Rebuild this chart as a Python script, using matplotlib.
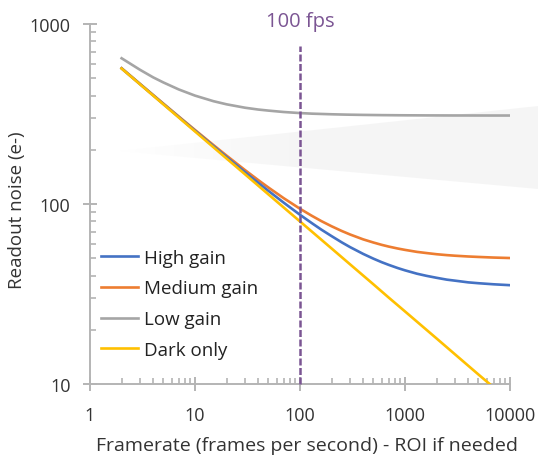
import matplotlib
matplotlib.use("Agg")
import matplotlib.pyplot as plt
import numpy as np
from matplotlib.patches import Polygon
from matplotlib.ticker import LogLocator, FixedLocator, NullFormatter

plt.rcParams['font.family'] = ['Open Sans', 'DejaVu Sans']

framerate = [2, 3, 4, 5, 7, 10, 15, 20, 30, 40, 50, 70, 100, 130, 160, 200, 250, 300,
             400, 500, 600, 700, 850, 1000, 1300, 1600, 2000, 2500, 3000, 4000, 5000,
             7000, 10000]
high_gain = [566.7, 463.2, 401.5, 359.4, 304.3, 255.3, 209.4, 182.2, 150.1, 131.1, 118.3,
             101.7, 87.1, 78.2, 72.0, 66.3, 61.2, 57.6, 52.8, 49.7, 47.5, 45.9, 44.1, 42.8,
             41.0, 39.9, 38.9, 38.0, 37.5, 36.7, 36.3, 35.8, 35.4]
medium_gain = [567.8, 464.5, 403.1, 361.2, 306.4, 257.8, 212.4, 185.6, 154.2, 135.8, 123.5,
               107.7, 94.1, 85.9, 80.3, 75.2, 70.8, 67.7, 63.6, 61.1, 59.3, 58.0, 56.6, 55.6,
               54.2, 53.4, 52.6, 52.0, 51.6, 51.1, 50.8, 50.4, 50.1]
low_gain = [645.1, 556.3, 505.1, 473.4, 433.0, 400.1, 372.5, 357.9, 342.6, 334.8, 330.3,
            324.4, 320.0, 317.6, 316.4, 315.1, 314.1, 313.4, 312.6, 312.1, 311.7, 311.5,
            311.2, 311.0, 310.8, 310.6, 310.5, 310.4, 310.3, 310.3, 310.2, 310.1, 310.1]
dark_fr = [2, 3, 5, 7, 10, 20, 30, 50, 70, 100, 200, 300, 500, 700,
           1000, 2000, 3000, 5000, 6400]
dark_only = [565.7, 461.9, 357.8, 302.4, 253.0, 178.9, 146.1, 113.1, 95.6, 80.0, 56.6,
             46.2, 35.8, 30.2, 25.3, 17.9, 14.6, 11.3, 10.0]
marker_fps = 100
series_labels = ["High gain", "Medium gain", "Low gain", "Dark only"]
x_ticks = [1, 10, 100, 1000, 10000]
y_ticks = [10, 100, 1000]

W, H = 538, 456
fig = plt.figure(figsize=(W / 100, H / 100), dpi=100)

# decorative light wedge in the background (fading towards the left)
bg = fig.add_axes([0, 0, 1, 1], zorder=-1)
bg.set_xlim(0, W)
bg.set_ylim(H, 0)
bg.axis('off')
grad = np.zeros((2, 256, 4))
grad[..., :3] = 0.9
alpha = np.clip((np.linspace(0, W, 256) - 115) / 180, 0, 1) * 0.36
grad[..., 3] = alpha
im = bg.imshow(grad, extent=(0, W, H, 0), aspect='auto', interpolation='bilinear')
wedge = Polygon([(118, 152), (W, 107), (W, 190)], closed=True, transform=bg.transData,
                facecolor='none', edgecolor='none')
bg.add_patch(wedge)
im.set_clip_path(wedge)

ax = fig.add_axes([90 / W, 1 - 385 / H, 420 / W, 360 / H], zorder=0)
ax.patch.set_alpha(0)

colors = ['#4472C4', '#ED7D31', '#A5A5A5', '#FFC000']
lw = 1.9
ax.plot(framerate, high_gain, color=colors[0], lw=lw, label=series_labels[0], zorder=3)
ax.plot(framerate, medium_gain, color=colors[1], lw=lw, label=series_labels[1], zorder=2)
ax.plot(framerate, low_gain, color=colors[2], lw=lw, label=series_labels[2], zorder=3)
ax.plot(dark_fr, dark_only, color=colors[3], lw=lw, label=series_labels[3], zorder=4)

ax.set_xscale('log')
ax.set_yscale('log')
ax.set_xlim(1, 10000)
ax.set_ylim(10, 1000)

ax.plot([marker_fps, marker_fps], [10, 755], color='#7B5593', lw=1.8,
        linestyle=(0, (2.8, 1.0)), zorder=5, clip_on=False)
ax.text(marker_fps, 1040, f"{marker_fps} fps", color='#7B5593', fontsize=14.5,
        ha='center', va='center')

for s in ['top', 'right']:
    ax.spines[s].set_visible(False)
for s in ['left', 'bottom']:
    ax.spines[s].set_color('#b4b4b4')
    ax.spines[s].set_linewidth(1.4)

ax.xaxis.set_major_locator(FixedLocator(x_ticks))
ax.yaxis.set_major_locator(FixedLocator(y_ticks))
ax.set_xticklabels([str(v) for v in x_ticks])
ax.set_yticklabels([str(v) for v in y_ticks])
ax.xaxis.set_minor_locator(LogLocator(base=10, subs=range(2, 10)))
ax.yaxis.set_minor_locator(LogLocator(base=10, subs=range(2, 10)))
ax.xaxis.set_minor_formatter(NullFormatter())
ax.yaxis.set_minor_formatter(NullFormatter())
ax.tick_params(which='major', direction='inout', length=10, width=1.4,
               color='#b4b4b4', labelsize=13, labelcolor='#333333')
ax.tick_params(axis='x', which='major', pad=11)
ax.tick_params(axis='y', which='major', pad=9)
ax.tick_params(which='minor', direction='in', length=4, width=1.2, color='#b4b4b4')

ax.set_xlabel("Framerate (frames per second) - ROI if needed", fontsize=14,
              color='#333333')
ax.set_ylabel("Readout noise (e-)", fontsize=13.5, color='#333333')
ax.xaxis.set_label_coords(217 / 420, -52 / 360)
ax.yaxis.set_label_coords(-64 / 420, 175 / 360)

leg = ax.legend(loc='upper left', bbox_to_anchor=(0.026, 0.376), frameon=False,
                fontsize=13.5, handlelength=2.0, handletextpad=0.3,
                labelspacing=0.68, borderpad=0, borderaxespad=0)
for t in leg.get_texts():
    t.set_color('#222222')

fig.savefig("out.png", dpi=100)
